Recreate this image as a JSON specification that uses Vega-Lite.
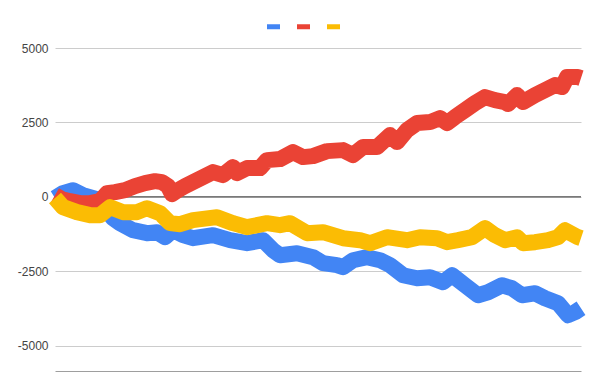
{
  "$schema": "https://vega.github.io/schema/vega-lite/v6.json",
  "autosize": {"type": "none"},
  "width": 526,
  "height": 323,
  "padding": {"left": 55, "top": 48, "right": 17, "bottom": 1},
  "config": {"view": {"stroke": null}, "font": "Liberation Sans"},
  "layer": [
    {
      "data": {"values": [{"z": 0}]},
      "mark": {"type": "rule", "color": "#333333", "strokeWidth": 1},
      "encoding": {"y": {"field": "z", "type": "quantitative", "scale": {"domain": [-5850, 5000], "nice": false, "zero": false}}}
    },
    {
      "data": {"values": [
        {"s":"A","t":0,"v":-44},{"s":"A","t":8,"v":124},{"s":"A","t":18,"v":225},{"s":"A","t":28,"v":57},{"s":"A","t":42,"v":-77},{"s":"A","t":50,"v":-380},{"s":"A","t":58,"v":-716},{"s":"A","t":65,"v":-884},{"s":"A","t":78,"v":-1120},{"s":"A","t":92,"v":-1220},{"s":"A","t":102,"v":-1187},{"s":"A","t":110,"v":-1355},{"s":"A","t":118,"v":-1120},{"s":"A","t":128,"v":-1288},{"s":"A","t":138,"v":-1389},{"s":"A","t":158,"v":-1288},{"s":"A","t":175,"v":-1456},{"s":"A","t":192,"v":-1557},{"s":"A","t":208,"v":-1456},{"s":"A","t":218,"v":-1792},{"s":"A","t":225,"v":-1960},{"s":"A","t":242,"v":-1893},{"s":"A","t":258,"v":-2027},{"s":"A","t":268,"v":-2229},{"s":"A","t":282,"v":-2296},{"s":"A","t":288,"v":-2363},{"s":"A","t":298,"v":-2128},{"s":"A","t":312,"v":-2027},{"s":"A","t":325,"v":-2128},{"s":"A","t":335,"v":-2296},{"s":"A","t":348,"v":-2632},{"s":"A","t":362,"v":-2733},{"s":"A","t":375,"v":-2700},{"s":"A","t":388,"v":-2868},{"s":"A","t":397,"v":-2632},{"s":"A","t":410,"v":-2969},{"s":"A","t":423,"v":-3305},{"s":"A","t":433,"v":-3204},{"s":"A","t":447,"v":-2969},{"s":"A","t":457,"v":-3070},{"s":"A","t":467,"v":-3305},{"s":"A","t":480,"v":-3238},{"s":"A","t":490,"v":-3406},{"s":"A","t":503,"v":-3574},{"s":"A","t":513,"v":-3977},{"s":"A","t":520,"v":-3876},{"s":"A","t":526,"v":-3742},
        {"s":"B","t":0,"v":57},{"s":"B","t":7,"v":-77},{"s":"B","t":15,"v":-145},{"s":"B","t":25,"v":-212},{"s":"B","t":35,"v":-212},{"s":"B","t":45,"v":-145},{"s":"B","t":52,"v":124},{"s":"B","t":60,"v":158},{"s":"B","t":70,"v":225},{"s":"B","t":80,"v":360},{"s":"B","t":90,"v":461},{"s":"B","t":100,"v":528},{"s":"B","t":107,"v":494},{"s":"B","t":113,"v":360},{"s":"B","t":117,"v":91},{"s":"B","t":123,"v":225},{"s":"B","t":130,"v":360},{"s":"B","t":142,"v":561},{"s":"B","t":158,"v":830},{"s":"B","t":168,"v":730},{"s":"B","t":178,"v":999},{"s":"B","t":182,"v":797},{"s":"B","t":192,"v":965},{"s":"B","t":205,"v":965},{"s":"B","t":212,"v":1234},{"s":"B","t":225,"v":1268},{"s":"B","t":238,"v":1503},{"s":"B","t":248,"v":1335},{"s":"B","t":258,"v":1368},{"s":"B","t":272,"v":1536},{"s":"B","t":288,"v":1570},{"s":"B","t":298,"v":1402},{"s":"B","t":308,"v":1671},{"s":"B","t":322,"v":1671},{"s":"B","t":335,"v":2074},{"s":"B","t":342,"v":1839},{"s":"B","t":352,"v":2243},{"s":"B","t":362,"v":2478},{"s":"B","t":375,"v":2511},{"s":"B","t":385,"v":2646},{"s":"B","t":392,"v":2478},{"s":"B","t":400,"v":2680},{"s":"B","t":410,"v":2915},{"s":"B","t":420,"v":3150},{"s":"B","t":430,"v":3352},{"s":"B","t":440,"v":3251},{"s":"B","t":450,"v":3184},{"s":"B","t":453,"v":3117},{"s":"B","t":462,"v":3419},{"s":"B","t":468,"v":3184},{"s":"B","t":480,"v":3419},{"s":"B","t":490,"v":3587},{"s":"B","t":500,"v":3755},{"s":"B","t":507,"v":3688},{"s":"B","t":512,"v":4024},{"s":"B","t":523,"v":4024},{"s":"B","t":526,"v":3991},
        {"s":"C","t":0,"v":-40},{"s":"C","t":8,"v":-346},{"s":"C","t":22,"v":-514},{"s":"C","t":35,"v":-615},{"s":"C","t":45,"v":-615},{"s":"C","t":55,"v":-346},{"s":"C","t":68,"v":-514},{"s":"C","t":82,"v":-514},{"s":"C","t":92,"v":-380},{"s":"C","t":105,"v":-548},{"s":"C","t":115,"v":-884},{"s":"C","t":125,"v":-918},{"s":"C","t":138,"v":-783},{"s":"C","t":162,"v":-682},{"s":"C","t":178,"v":-884},{"s":"C","t":192,"v":-1019},{"s":"C","t":212,"v":-884},{"s":"C","t":225,"v":-951},{"s":"C","t":235,"v":-884},{"s":"C","t":252,"v":-1220},{"s":"C","t":268,"v":-1187},{"s":"C","t":288,"v":-1389},{"s":"C","t":305,"v":-1456},{"s":"C","t":315,"v":-1557},{"s":"C","t":332,"v":-1355},{"s":"C","t":352,"v":-1456},{"s":"C","t":365,"v":-1355},{"s":"C","t":382,"v":-1389},{"s":"C","t":392,"v":-1523},{"s":"C","t":403,"v":-1456},{"s":"C","t":417,"v":-1355},{"s":"C","t":430,"v":-1052},{"s":"C","t":440,"v":-1288},{"s":"C","t":450,"v":-1456},{"s":"C","t":462,"v":-1355},{"s":"C","t":468,"v":-1557},{"s":"C","t":480,"v":-1523},{"s":"C","t":493,"v":-1456},{"s":"C","t":503,"v":-1355},{"s":"C","t":510,"v":-1120},{"s":"C","t":523,"v":-1355},{"s":"C","t":526,"v":-1389}
      ]},
      "mark": {"type": "line", "strokeWidth": 16, "strokeJoin": "round", "strokeCap": "butt"},
      "encoding": {
        "x": {"field": "t", "type": "quantitative", "scale": {"domain": [0, 526], "nice": false, "zero": false},
              "axis": {"title": null, "labels": false, "ticks": false, "grid": false, "domain": true, "domainColor": "#9e9e9e", "domainWidth": 1}},
        "y": {"field": "v", "type": "quantitative", "scale": {"domain": [-5850, 5000], "nice": false, "zero": false},
              "axis": {"title": null, "values": [-5000, -2500, 0, 2500, 5000], "labelExpr": "'' + datum.value", "ticks": false, "domain": false,
                       "gridColor": "#cccccc", "gridWidth": 1, "labelColor": "#444444", "labelFontSize": 12, "labelFont": "Liberation Sans", "labelPadding": 7}},
        "color": {"field": "s", "type": "nominal", "scale": {"domain": ["A", "B", "C"], "range": ["#4285F4", "#EA4335", "#FBBC04"]},
                  "legend": {"title": null, "orient": "none", "legendX": 209, "legendY": -31, "direction": "horizontal", "symbolType": "stroke", "symbolSize": 170, "symbolStrokeWidth": 5, "labelExpr": "''", "labelOffset": 0, "columnPadding": -5}}
      }
    }
  ]
}
